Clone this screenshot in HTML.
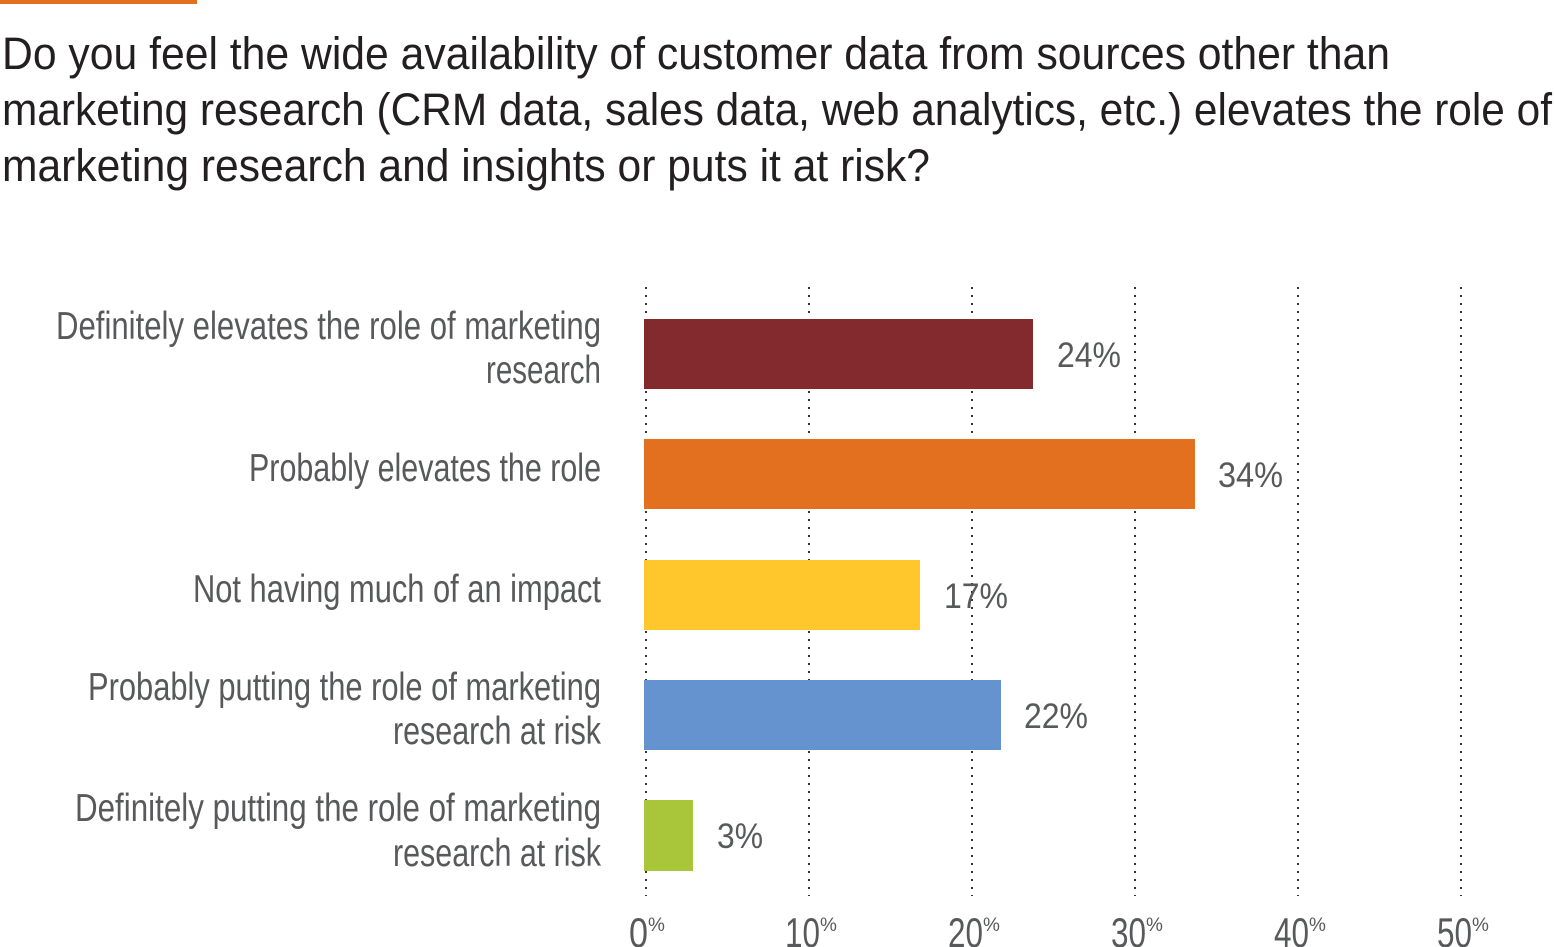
<!DOCTYPE html>
<html><head><meta charset="utf-8"><style>
html,body{margin:0;padding:0;background:#fff;}
svg{display:block;}
text{font-family:"Liberation Sans Narrow","Liberation Sans",sans-serif;}
</style></head><body>
<svg width="1554" height="947" viewBox="0 0 1554 947" xmlns="http://www.w3.org/2000/svg">
<rect x="0" y="0" width="197" height="4" fill="#e3701f"/>
<g fill="#231f20" font-size="45">
<text x="2" y="69" textLength="1388" lengthAdjust="spacingAndGlyphs">Do you feel the wide availability of customer data from sources other than</text>
<text x="2" y="125" textLength="1550" lengthAdjust="spacingAndGlyphs">marketing research (CRM data, sales data, web analytics, etc.) elevates the role of</text>
<text x="2" y="181" textLength="928" lengthAdjust="spacingAndGlyphs">marketing research and insights or puts it at risk?</text>
</g>
<g stroke="#333" stroke-width="2" stroke-dasharray="2,6">
<line x1="646" y1="287" x2="646" y2="896"/>
<line x1="809" y1="287" x2="809" y2="896"/>
<line x1="972" y1="287" x2="972" y2="896"/>
<line x1="1135" y1="287" x2="1135" y2="896"/>
<line x1="1298" y1="287" x2="1298" y2="896"/>
<line x1="1461" y1="287" x2="1461" y2="896"/>
</g>
<rect x="644" y="319" width="389" height="70" fill="#832a2f"/>
<rect x="644" y="439" width="551" height="70" fill="#e3701f"/>
<rect x="644" y="560" width="276" height="70" fill="#ffc72c"/>
<rect x="644" y="680" width="357" height="70" fill="#6593d0"/>
<rect x="644" y="800" width="49" height="71" fill="#a9c63a"/>
<g fill="#58595b" font-size="35">
<text x="1057" y="367" textLength="64" lengthAdjust="spacingAndGlyphs">24%</text>
<text x="1218" y="487" textLength="65" lengthAdjust="spacingAndGlyphs">34%</text>
<text x="944" y="608" textLength="64" lengthAdjust="spacingAndGlyphs">17%</text>
<text x="1024" y="728" textLength="64" lengthAdjust="spacingAndGlyphs">22%</text>
<text x="717" y="848" textLength="46" lengthAdjust="spacingAndGlyphs">3%</text>
</g>
<g fill="#58595b" font-size="39" text-anchor="end">
<text x="601" y="339" textLength="545" lengthAdjust="spacingAndGlyphs">Definitely elevates the role of marketing</text>
<text x="601" y="383" textLength="115" lengthAdjust="spacingAndGlyphs">research</text>
<text x="601" y="481" textLength="352" lengthAdjust="spacingAndGlyphs">Probably elevates the role</text>
<text x="601" y="602" textLength="408" lengthAdjust="spacingAndGlyphs">Not having much of an impact</text>
<text x="601" y="700" textLength="513" lengthAdjust="spacingAndGlyphs">Probably putting the role of marketing</text>
<text x="601" y="744" textLength="208" lengthAdjust="spacingAndGlyphs">research at risk</text>
<text x="601" y="821" textLength="526" lengthAdjust="spacingAndGlyphs">Definitely putting the role of marketing</text>
<text x="601" y="866" textLength="208" lengthAdjust="spacingAndGlyphs">research at risk</text>
</g>
<g fill="#58595b">
<text x="629" y="947" font-size="42" textLength="19" lengthAdjust="spacingAndGlyphs">0</text><text x="648" y="931" font-size="19">%</text>
<text x="785" y="947" font-size="42" textLength="35" lengthAdjust="spacingAndGlyphs">10</text><text x="820" y="931" font-size="19">%</text>
<text x="948" y="947" font-size="42" textLength="35" lengthAdjust="spacingAndGlyphs">20</text><text x="983" y="931" font-size="19">%</text>
<text x="1111" y="947" font-size="42" textLength="35" lengthAdjust="spacingAndGlyphs">30</text><text x="1146" y="931" font-size="19">%</text>
<text x="1274" y="947" font-size="42" textLength="35" lengthAdjust="spacingAndGlyphs">40</text><text x="1309" y="931" font-size="19">%</text>
<text x="1437" y="947" font-size="42" textLength="35" lengthAdjust="spacingAndGlyphs">50</text><text x="1472" y="931" font-size="19">%</text>
</g>
</svg>
</body></html>
